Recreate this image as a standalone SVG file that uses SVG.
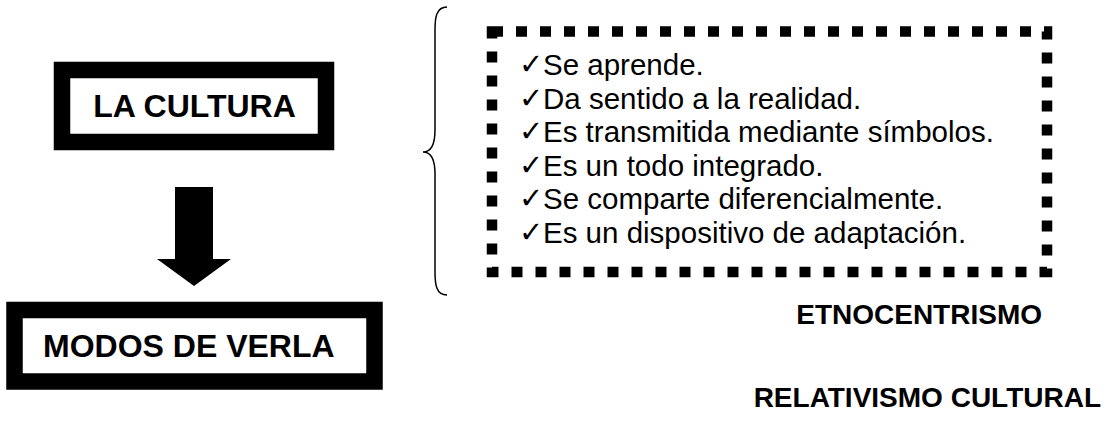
<svg xmlns="http://www.w3.org/2000/svg" width="1107" height="434" viewBox="0 0 1107 434">
<style>
.box{fill:#fff;stroke:#000;stroke-width:16.5}
.lbl{font-family:"Liberation Sans",Arial,sans-serif;font-weight:bold;fill:#000}
.item{font-family:"Liberation Sans",Arial,sans-serif;font-size:29.5px;fill:#000}
.chk{font-family:"DejaVu Sans",sans-serif;font-size:29px;fill:#000}
.dots{fill:none;stroke:#000;stroke-width:10.5;stroke-dasharray:11 13}
</style>
<rect width="1107" height="434" fill="#fff"/>
<g id="la-cultura">
<rect class="box" x="62" y="70" width="264" height="72"/>
<text class="lbl" x="194.5" y="117" font-size="32" text-anchor="middle">LA CULTURA</text>
</g>
<g id="modos-de-verla">
<rect class="box" x="14.5" y="310" width="360" height="71.5"/>
<text class="lbl" x="43" y="357" font-size="32">MODOS DE VERLA</text>
</g>
<g id="connectors">
<polygon points="175,187 213,187 213,259 231,259 194,286 157,259 175,259" fill="#000"/>
<path d="M447,7 C436,7 435,18 435,30 L435,130 C435,145 431,152 423,152 C431,152 435,159 435,174 L435,272 C435,284 436,295 447,295" fill="none" stroke="#000" stroke-width="1.5"/>
</g>
<g id="caracteristicas">
<rect class="dots" x="492" y="31.5" width="555" height="240.5"/>
<text class="chk" x="519" y="74">✓</text>
<text class="chk" x="519" y="107.5">✓</text>
<text class="chk" x="519" y="141">✓</text>
<text class="chk" x="519" y="174.5">✓</text>
<text class="chk" x="519" y="208">✓</text>
<text class="chk" x="519" y="241.5">✓</text>
<text class="item" x="543" y="75">Se aprende.</text>
<text class="item" x="543" y="108.5">Da sentido a la realidad.</text>
<text class="item" x="543" y="142">Es transmitida mediante símbolos.</text>
<text class="item" x="543" y="175.5">Es un todo integrado.</text>
<text class="item" x="543" y="209">Se comparte diferencialmente.</text>
<text class="item" x="543" y="242.5">Es un dispositivo de adaptación.</text>
</g>
<g id="etnocentrismo">
<text class="lbl" x="1042" y="324" font-size="28" text-anchor="end">ETNOCENTRISMO</text>
</g>
<g id="relativismo-cultural">
<text class="lbl" x="1101" y="407" font-size="28" text-anchor="end">RELATIVISMO CULTURAL</text>
</g>
</svg>
